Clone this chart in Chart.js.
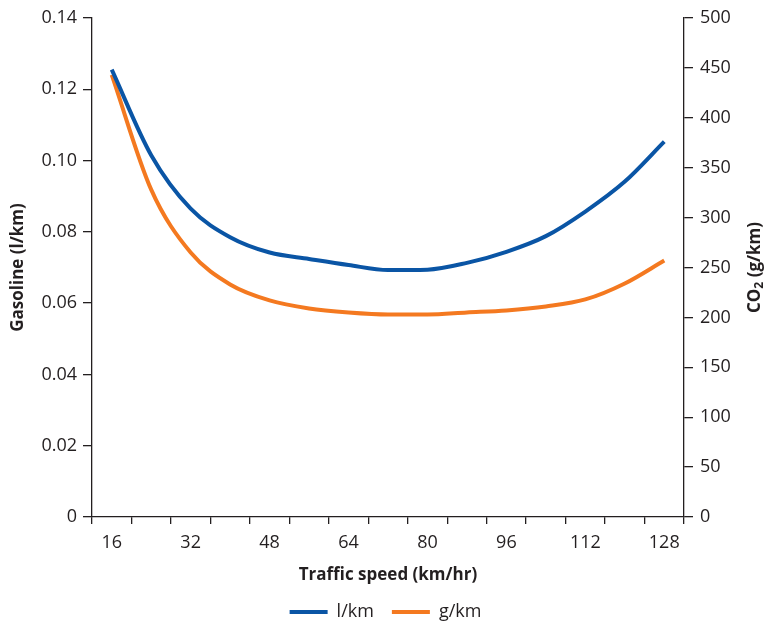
<!DOCTYPE html>
<html>
<head>
<meta charset="utf-8">
<script src="https://cdn.jsdelivr.net/npm/chart.js@4"></script>
<style>
  html, body { margin: 0; padding: 0; background: #fff; }
  #wrap { width: 771px; height: 624px; position: relative; }
</style>
</head>
<body>
<div id="wrap"><canvas id="chart"></canvas></div>
<script>
// traffic speed categories (km/hr), every other one gets a label
const speeds = [16, 24, 32, 40, 48, 56, 64, 72, 80, 88, 96, 104, 112, 120, 128];
const labelledSpeeds = [16, 32, 48, 64, 80, 96, 112, 128];

// gasoline use (l/km) - left axis
const fuelPerKm = [0.1255, 0.1015, 0.0865, 0.0785, 0.0742, 0.0724, 0.0707, 0.0693,
  0.0694, 0.0713, 0.0744, 0.0788, 0.0857, 0.0941, 0.1053];

// CO2 emissions (g/km) - right axis
const co2PerKm = [443, 328, 265, 233, 217, 209, 205, 203, 203, 205, 207, 211, 218, 234, 257];

const ink = '#231f20';
const blue = '#0a55a5';
const orange = '#f47920';
const fontFamily = "'Open Sans', sans-serif";

Chart.defaults.font.family = fontFamily;
Chart.defaults.color = ink;

// right axis title drawn by hand so it reads bottom-to-top and gets a real subscript
const co2Title = {
  id: 'co2Title',
  afterDraw(chart) {
    const ctx = chart.ctx;
    const area = chart.chartArea;
    const cx = chart.scales.y1.right - 16;
    const cy = (area.top + area.bottom) / 2;
    const mainFont = `bold 17px ${fontFamily}`;
    const subFont = `bold 12px ${fontFamily}`;
    ctx.save();
    ctx.font = mainFont;
    const wCO = ctx.measureText('CO').width;
    const wRest = ctx.measureText(' (g/km)').width;
    ctx.font = subFont;
    const w2 = ctx.measureText('2').width;
    const total = wCO + w2 + wRest;
    ctx.translate(cx, cy);
    ctx.rotate(-Math.PI / 2);
    ctx.fillStyle = ink;
    ctx.textAlign = 'left';
    ctx.textBaseline = 'middle';
    let px = -total / 2;
    ctx.font = mainFont;
    ctx.fillText('CO', px, 0);
    px += wCO;
    ctx.font = subFont;
    ctx.fillText('2', px, 5);
    px += w2;
    ctx.font = mainFont;
    ctx.fillText(' (g/km)', px, 0);
    ctx.restore();
  }
};

function axisGrid(len) {
  return {
    display: true,
    drawOnChartArea: false,
    drawTicks: true,
    tickLength: len,
    color: ink,
    lineWidth: 1.3
  };
}

const ctx = document.getElementById('chart').getContext('2d');
new Chart(ctx, {
  type: 'line',
  data: {
    labels: speeds,
    datasets: [
      {
        label: 'l/km',
        data: fuelPerKm,
        yAxisID: 'y',
        borderColor: blue,
        backgroundColor: blue,
        borderWidth: 4,
        pointRadius: 0,
        pointHoverRadius: 0,
        pointStyle: 'line',
        cubicInterpolationMode: 'monotone',
        fill: false
      },
      {
        label: 'g/km',
        data: co2PerKm,
        yAxisID: 'y1',
        borderColor: orange,
        backgroundColor: orange,
        borderWidth: 4,
        pointRadius: 0,
        pointHoverRadius: 0,
        pointStyle: 'line',
        cubicInterpolationMode: 'monotone',
        fill: false
      }
    ]
  },
  options: {
    responsive: true,
    maintainAspectRatio: false,
    devicePixelRatio: 1,
    animation: false,
    layout: {
      padding: { top: 18, right: 0, bottom: -7, left: 0 }
    },
    plugins: {
      legend: {
        display: true,
        position: 'bottom',
        labels: {
          usePointStyle: true,
          pointStyle: 'line',
          pointStyleWidth: 38,
          padding: 18,
          color: ink,
          font: { size: 18 }
        }
      },
      tooltip: { enabled: false }
    },
    scales: {
      x: {
        type: 'category',
        offset: true,
        grid: Object.assign(axisGrid(7), { offset: true }),
        border: { display: true, color: ink, width: 1.3 },
        ticks: {
          autoSkip: false,
          maxRotation: 0,
          padding: 8,
          font: { size: 18 },
          callback: function (value, index) {
            const s = speeds[index];
            return labelledSpeeds.includes(s) ? String(s) : '';
          }
        },
        title: {
          display: true,
          text: 'Traffic speed (km/hr)',
          font: { size: 17, weight: 'bold' },
          padding: { top: 0, bottom: 0 }
        },
        afterFit(scale) { scale.height = 68; }
      },
      y: {
        position: 'left',
        min: 0,
        max: 0.14,
        grid: axisGrid(9),
        border: { display: true, color: ink, width: 1.3 },
        ticks: {
          stepSize: 0.02,
          padding: 6,
          font: { size: 18 },
          callback: (v) => (v === 0 ? '0' : v.toFixed(2))
        },
        title: {
          display: true,
          text: 'Gasoline (l/km)',
          font: { size: 17, weight: 'bold' },
          padding: { top: 8, bottom: 0 }
        },
        afterFit(scale) { scale.width = 92; }
      },
      y1: {
        position: 'right',
        min: 0,
        max: 500,
        grid: axisGrid(9),
        border: { display: true, color: ink, width: 1.3 },
        ticks: {
          stepSize: 50,
          padding: 7,
          font: { size: 18 }
        },
        title: { display: false },
        afterFit(scale) { scale.width = 87; }
      }
    }
  },
  plugins: [co2Title]
});
</script>
</body>
</html>
